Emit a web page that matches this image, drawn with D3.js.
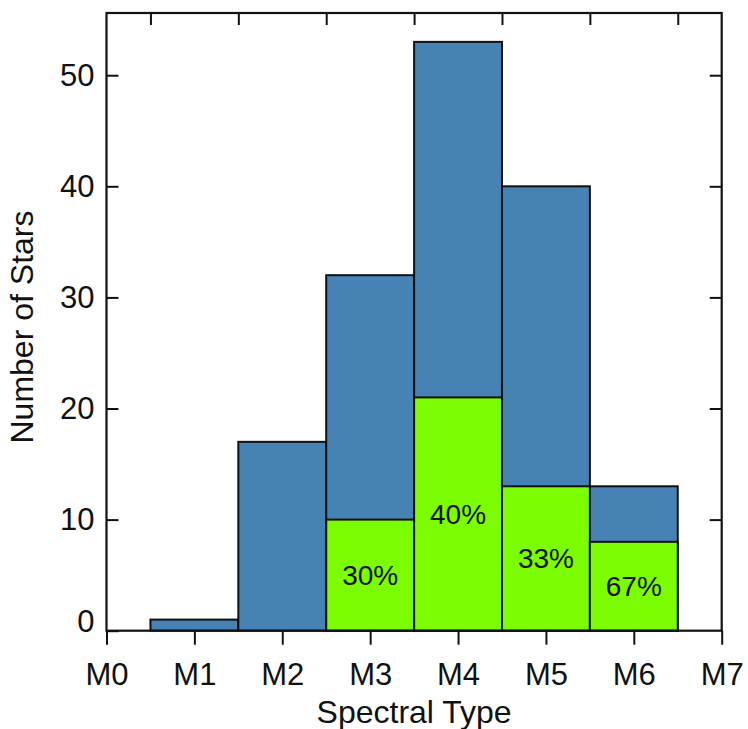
<!DOCTYPE html>
<html>
<head>
<meta charset="utf-8">
<script src="https://cdn.jsdelivr.net/npm/d3@7"></script>
<style>
  html, body { margin: 0; padding: 0; background: #fff; }
  svg text { font-family: "Liberation Sans", Arial, Helvetica, sans-serif; fill: #111; }
</style>
</head>
<body>
<svg id="chart" width="748" height="729"></svg>
<script>
// Spectral-type bins (bar centres on the M-type axis)
const types = [1, 2, 3, 4, 5, 6];
// Total number of stars per bin
const totals = [1, 17, 32, 53, 40, 13];
// Stars in the highlighted subsample per bin (0 = none drawn)
const subset = [0, 0, 10, 21, 13, 8];
// Percent labels written inside the highlighted bars
const pctLabels = [null, null, "30%", "40%", "33%", "67%"];
// Axis tick labels
const xTickValues = [0, 1, 2, 3, 4, 5, 6, 7];
const xTickLabels = ["M0", "M1", "M2", "M3", "M4", "M5", "M6", "M7"];
const yTickValues = [0, 10, 20, 30, 40, 50];

const svg = d3.select("#chart");
const plotLeft = 106.5, plotRight = 721.7, plotTop = 13, plotBottom = 630.7;

const x = d3.scaleLinear().domain([0, 7]).range([plotLeft, plotRight]);
const y = d3.scaleLinear().domain([0, 55.6]).range([plotBottom, plotTop]);

const blue = "#4682B4";
const green = "#7CFC00";

// Bars: full count in blue, highlighted subsample in green on top
const bars = svg.append("g");
types.forEach((t, i) => {
  bars.append("rect")
    .attr("x", x(t - 0.5)).attr("y", y(totals[i]))
    .attr("width", x(t + 0.5) - x(t - 0.5))
    .attr("height", y(0) - y(totals[i]))
    .attr("fill", blue).attr("stroke", "#111").attr("stroke-width", 2);
});
types.forEach((t, i) => {
  if (!subset[i]) return;
  bars.append("rect")
    .attr("x", x(t - 0.5)).attr("y", y(subset[i]))
    .attr("width", x(t + 0.5) - x(t - 0.5))
    .attr("height", y(0) - y(subset[i]))
    .attr("fill", green).attr("stroke", "#111").attr("stroke-width", 2);
});
types.forEach((t, i) => {
  if (!pctLabels[i]) return;
  bars.append("text")
    .attr("x", x(t)).attr("y", y(subset[i] / 2))
    .attr("text-anchor", "middle").attr("dominant-baseline", "central")
    .attr("font-size", 28)
    .text(pctLabels[i]);
});

function styleAxis(g) {
  g.select(".domain").remove();
  g.selectAll(".tick line").attr("stroke", "#111").attr("stroke-width", 2);
  g.selectAll(".tick text").attr("fill", "#111")
    .attr("font-family", "Liberation Sans, Arial, Helvetica, sans-serif");
}

// Bottom axis: outward ticks with M-type labels
svg.append("g").attr("transform", `translate(0,${plotBottom})`)
  .call(d3.axisBottom(x).tickValues(xTickValues)
    .tickFormat((d, i) => xTickLabels[i]).tickSize(14).tickPadding(18))
  .call(styleAxis)
  .call(g => g.selectAll(".tick text").attr("font-size", 31));

// Top axis: inward ticks at bin edges
svg.append("g").attr("transform", `translate(0,${plotTop})`)
  .call(d3.axisTop(x).tickValues(types.map(t => t - 0.5).concat([6.5]))
    .tickSize(-12).tickFormat(""))
  .call(styleAxis);

// Left axis: inward ticks, labels outside
svg.append("g").attr("transform", `translate(${plotLeft},0)`)
  .call(d3.axisLeft(y).tickValues(yTickValues).tickSizeInner(-12).tickSizeOuter(0).tickPadding(12))
  .call(styleAxis)
  .call(g => g.selectAll(".tick text").attr("font-size", 31)
    .attr("dy", d => d === 0 ? "0.03em" : "0.32em"));

// Right axis: inward ticks only
svg.append("g").attr("transform", `translate(${plotRight},0)`)
  .call(d3.axisRight(y).tickValues(yTickValues.slice(1)).tickSize(-12).tickFormat(""))
  .call(styleAxis);

// Frame
svg.append("rect")
  .attr("x", plotLeft).attr("y", plotTop)
  .attr("width", plotRight - plotLeft).attr("height", plotBottom - plotTop)
  .attr("fill", "none").attr("stroke", "#111").attr("stroke-width", 2.2);

// Axis titles
svg.append("text")
  .attr("x", x(3.5)).attr("y", 723)
  .attr("text-anchor", "middle").attr("font-size", 32)
  .text("Spectral Type");

svg.append("text")
  .attr("transform", `translate(33,${(207 + 447) / 2}) rotate(-90)`)
  .attr("text-anchor", "middle").attr("font-size", 32)
  .text("Number of Stars");
</script>
</body>
</html>
